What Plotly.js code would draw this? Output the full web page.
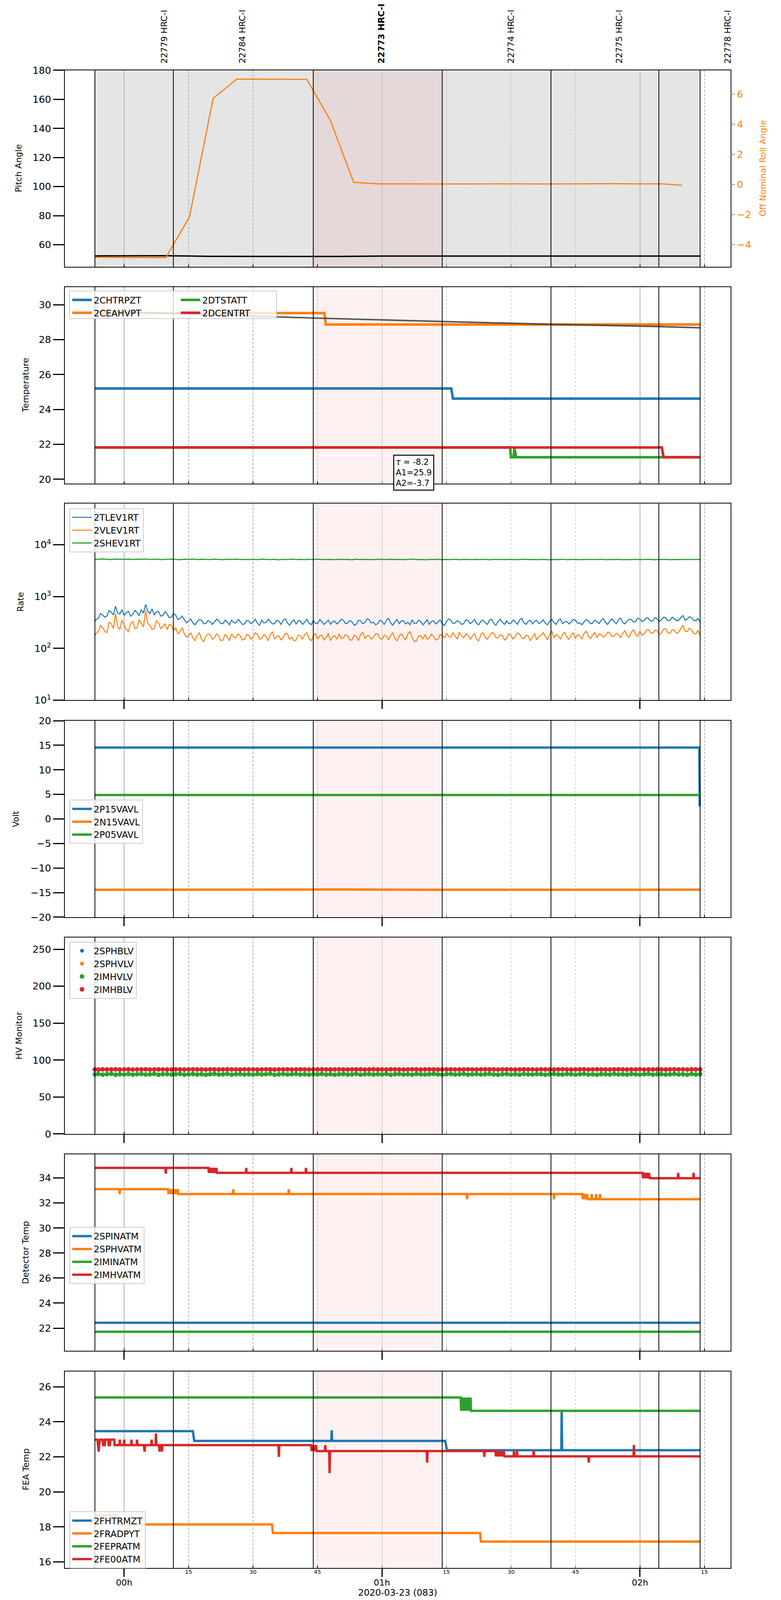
<!DOCTYPE html>
<html><head><meta charset="utf-8">
<script src="https://cdn.plot.ly/plotly-3.0.1.min.js"></script>
<style>body{margin:0;background:#fff;overflow:hidden}</style>
</head><body><div id="chart" style="width:2000px;height:4096px"></div>
<script>
// ---------------- DATA (times in minutes after 2020-03-23 00:00) ----------------
const obsBounds = [-6.8, 11.45, 44.0, 74.0, 99.3, 124.4, 134.0];
const highlight = [44.0, 74.0];
const obsLabels = ['22779 HRC-I','22784 HRC-I','22773 HRC-I','22774 HRC-I','22775 HRC-I','22778 HRC-I'];
const obsLabelT = [9.3, 27.5, 59.8, 90.0, 115.2, 140.4];
const obsBold = [false,false,true,false,false,false];

const hourTicks = [0, 60, 120];
const hourText = ['00h','01h','02h'];
const quarterT = [15,30,45,75,90,105,135];
const quarterText = ['15','30','45','15','30','45','15'];

// Panel 1
const pitchT = [-6.8,0,10,20,30,40,50,60,70,80,90,100,110,120,134];
const pitchV = [52.3,52.3,52.4,52.0,51.9,51.9,51.9,52.2,52.2,52.2,52.2,52.2,52.2,52.2,52.2];
const rollT = [-6.8,-1.3,4.2,9.7,15.2,20.7,26.2,31.7,37.2,42.5,47.9,53.4,59.2,64.7,70.2,75.7,81.2,86.7,92.2,97.7,103.2,108.7,114.2,119.7,125.2,129.8];
const rollV = [-4.83,-4.85,-4.86,-4.86,-2.15,5.72,7.0,7.0,6.99,6.98,4.3,0.14,0.04,0.03,0.03,0.03,0.04,0.04,0.04,0.03,0.04,0.05,0.05,0.04,0.04,-0.05];

// Panel 2
const chtrT = [-6.8,76.1,76.5,134]; const chtrV = [25.2,25.2,24.62,24.62];
const ceahT = [-6.8,46.6,46.9,134]; const ceahV = [29.52,29.52,28.87,28.87];
const dtstT = [-6.8,89.8,90.0,90.6,90.8,91.2,134]; const dtstV = [21.82,21.82,21.26,21.26,21.8,21.26,21.26];
const dcenT = [-6.8,125.1,125.5,134]; const dcenV = [21.82,21.82,21.26,21.26];
const fitT = [-6.8,11.5,44.0,74.0,99.2,124.3,134.0];
const fitV = [29.64,29.5,29.24,29.04,28.88,28.75,28.68];
const fitText = '<i>τ</i> = -8.2<br>A1=25.9<br>A2=-3.7';

// Panel 3 (rates) — half-minute sampling for the two noisy rates
const rateHT = [-6.8,-6.5,-6,-5.5,-5,-4.5,-4,-3.5,-3,-2.5,-2,-1.5,-1,-0.5,
0,0.5,1,1.5,2,2.5,3,3.5,4,4.5,5,5.5,6,6.5,7,7.5,8,8.5,9,9.5,
10,10.5,11,11.5,12,12.5,13,13.5,14,14.5,15,15.5,16,16.5,17,17.5,18,18.5,19,19.5,
20,20.5,21,21.5,22,22.5,23,23.5,24,24.5,25,25.5,26,26.5,27,27.5,28,28.5,29,29.5,
30,30.5,31,31.5,32,32.5,33,33.5,34,34.5,35,35.5,36,36.5,37,37.5,38,38.5,39,39.5,
40,40.5,41,41.5,42,42.5,43,43.5,44,44.5,45,45.5,46,46.5,47,47.5,48,48.5,49,49.5,
50,50.5,51,51.5,52,52.5,53,53.5,54,54.5,55,55.5,56,56.5,57,57.5,58,58.5,59,59.5,
60,60.5,61,61.5,62,62.5,63,63.5,64,64.5,65,65.5,66,66.5,67,67.5,68,68.5,69,69.5,
70,70.5,71,71.5,72,72.5,73,73.5,74,74.5,75,75.5,76,76.5,77,77.5,78,78.5,79,79.5,
80,80.5,81,81.5,82,82.5,83,83.5,84,84.5,85,85.5,86,86.5,87,87.5,88,88.5,89,89.5,
90,90.5,91,91.5,92,92.5,93,93.5,94,94.5,95,95.5,96,96.5,97,97.5,98,98.5,99,99.5,
100,100.5,101,101.5,102,102.5,103,103.5,104,104.5,105,105.5,106,106.5,107,107.5,108,108.5,109,109.5,
110,110.5,111,111.5,112,112.5,113,113.5,114,114.5,115,115.5,116,116.5,117,117.5,118,118.5,119,119.5,
120,120.5,121,121.5,122,122.5,123,123.5,124,124.5,125,125.5,126,126.5,127,127.5,128,128.5,129,129.5,
130,130.5,131,131.5,132,132.5,133,133.5,134];
const tlevV = [330,360,380,470,440,400,420,540,500,440,650,480,460,560,
430,490,520,420,450,540,490,430,560,480,710,520,470,580,440,500,520,420,430,510,
460,390,400,470,440,360,380,420,360,310,340,370,310,285,330,360,350,300,300,345,
330,290,320,365,345,300,300,350,325,285,350,315,310,360,330,290,295,345,340,300,
320,365,305,280,350,310,315,365,330,295,300,350,335,290,350,370,310,280,325,355,
295,340,340,290,320,365,310,285,345,305,300,360,330,290,315,350,290,330,335,295,
320,365,350,300,305,345,325,280,290,350,340,300,315,370,360,310,320,285,300,350,
330,290,345,380,310,280,325,360,300,340,340,295,320,285,355,305,305,350,330,285,
315,360,290,330,340,295,320,355,300,275,335,370,350,300,310,340,325,290,300,355,
345,300,320,360,305,285,335,350,315,290,350,365,300,280,330,365,320,290,340,300,
305,355,325,290,355,380,310,290,330,350,295,335,345,300,320,355,305,285,335,360,
315,290,345,370,300,325,330,295,320,360,350,305,310,285,325,360,340,300,305,350,
330,300,350,375,315,290,340,370,325,300,355,385,320,295,340,365,360,320,330,385,
365,330,345,390,380,335,340,395,370,330,355,400,390,340,350,400,375,340,345,395,
430,350,365,410,390,345,340,380,320];
const vlevV = [175,195,210,280,250,215,200,320,300,240,470,260,230,350,
280,230,210,300,330,240,250,360,300,260,530,300,280,230,240,340,310,240,260,300,
230,290,280,220,250,190,210,250,190,165,175,200,160,140,180,200,150,135,170,190,
185,150,160,190,175,140,145,185,170,140,190,165,160,190,175,145,150,185,180,150,
165,200,190,150,155,185,170,140,185,210,150,170,175,145,160,195,190,150,165,140,
145,180,175,150,185,200,155,140,170,195,150,175,180,145,165,195,140,170,175,150,
190,155,160,185,175,145,145,180,170,140,185,205,155,175,175,150,165,190,190,155,
150,180,170,145,180,200,155,140,175,190,165,145,190,210,160,135,140,175,175,150,
185,150,160,190,170,145,150,185,180,160,195,170,165,200,175,150,205,175,160,190,
180,150,170,195,150,140,185,200,165,150,175,200,195,160,160,185,175,145,155,190,
180,150,170,200,190,160,155,180,175,140,165,195,145,170,180,200,170,145,190,215,
160,185,175,150,185,205,165,150,180,200,155,185,175,150,195,215,170,155,180,205,
160,190,185,165,175,205,200,170,170,195,185,160,195,220,175,165,205,230,185,170,
215,180,190,225,230,200,195,225,220,185,200,235,240,200,195,230,225,195,205,240,
280,215,210,245,230,195,190,225,175];
// one-minute sampling (2SHEV1RT and HV monitors)
const rateT = [-6.8,-6,-5,-4,-3,-2,-1,
0,1,2,3,4,5,6,7,8,9,10,11,12,13,14,15,16,17,18,19,20,21,22,23,24,25,26,27,28,29,
30,31,32,33,34,35,36,37,38,39,40,41,42,43,44,45,46,47,48,49,50,51,52,53,54,55,56,57,58,59,
60,61,62,63,64,65,66,67,68,69,70,71,72,73,74,75,76,77,78,79,80,81,82,83,84,85,86,87,88,89,
90,91,92,93,94,95,96,97,98,99,100,101,102,103,104,105,106,107,108,109,110,111,112,113,114,115,116,117,118,119,
120,121,122,123,124,125,126,127,128,129,130,131,132,133,134];
const shevV = [5200,5280,5310,5250,5190,5300,5260,
5230,5290,5180,5270,5240,5310,5200,5260,5230,5180,
5250,5300,5210,5160,5270,5220,5290,5190,5240,5200,
5170,5260,5220,5150,5250,5200,5280,5180,5230,5190,
5240,5160,5270,5210,5180,5250,5140,5230,5200,5260,
5180,5220,5150,5240,5190,5270,5170,5210,5230,5160,
5250,5190,5220,5140,5260,5180,5230,5200,5150,5240,
5210,5170,5250,5190,5230,5160,5220,5260,5180,5200,
5140,5230,5190,5250,5170,5210,5180,5240,5150,5220,
5200,5160,5230,5180,5250,5140,5210,5190,5230,5170,
5220,5150,5200,5240,5180,5210,5160,5230,5190,5140,
5210,5180,5240,5160,5200,5230,5150,5190,5220,5170,
5200,5240,5160,5210,5180,5230,5150,5200,5190,5220,
5170,5210,5240,5160,5200,5180,5230,5150,5210,5190,
5220,5170,5200,5230,5180];

// Panel 4 (volts)
const p15T = [-6.8,133.8,133.9]; const p15V = [14.54,14.54,2.55];
const n15T = [-6.8,10,30,50,70,90,110,134]; const n15V = [-14.42,-14.38,-14.4,-14.36,-14.42,-14.4,-14.38,-14.4];
const p05T = [-6.8,134]; const p05V = [4.87,4.87];

// Panel 5 (HV monitor) - sampled on rateT
const sphbV = [null]; const sphvV = [null];
const imhvV = [80.6,81.2,80.3,80.9,81.4,80.2,80.8,
80.5,81.1,80.3,80.9,81.3,80.4,80.7,81.2,80.2,80.8,
81.0,80.4,80.9,81.3,80.3,80.7,81.1,80.5,80.9,80.2,
80.8,81.2,80.4,80.7,81.3,80.3,80.9,81.0,80.5,80.8,
80.3,81.1,80.6,80.9,81.4,80.2,80.7,81.1,80.5,80.9,
81.2,80.4,80.8,80.3,81.0,80.6,81.3,80.4,80.8,80.2,
80.9,81.1,80.5,80.7,81.2,80.3,80.8,81.0,80.4,80.9,
80.6,81.3,80.2,80.8,81.1,80.5,80.9,80.3,81.2,80.7,
80.4,80.9,81.3,80.6,80.2,80.8,81.1,80.5,80.9,81.2,
80.3,80.7,81.0,80.4,80.9,81.3,80.6,80.2,80.8,81.1,
80.5,80.9,80.3,81.2,80.7,80.4,81.0,80.8,80.2,80.9,
81.3,80.6,80.4,81.1,80.8,80.3,80.9,81.2,80.5,80.7,
80.2,81.0,80.8,80.4,81.3,80.6,80.9,80.3,81.1,80.7,
80.5,80.9,81.2,80.3,80.8,81.0,80.4,80.7,81.3,80.6,
80.9,80.2,81.1,80.5,80.8];
const imhbV = [87.3,87.2,87.4,87.3,87.3,87.4,87.2,
87.3,87.4,87.2,87.3,87.3,87.4,87.2,87.3,87.4,87.3,
87.2,87.3,87.4,87.3,87.2,87.3,87.4,87.3,87.3,87.2,
87.4,87.3,87.2,87.3,87.4,87.3,87.3,87.2,87.4,87.3,
87.3,87.2,87.3,87.4,87.3,87.2,87.3,87.3,87.4,87.2,
87.3,87.4,87.3,87.2,87.3,87.3,87.4,87.3,87.2,87.3,
87.4,87.3,87.2,87.3,87.3,87.4,87.2,87.3,87.4,87.3,
87.3,87.2,87.4,87.3,87.3,87.2,87.3,87.4,87.3,87.2,
87.3,87.4,87.3,87.2,87.3,87.3,87.4,87.2,87.3,87.3,
87.4,87.3,87.2,87.3,87.4,87.3,87.3,87.2,87.3,87.4,
87.3,87.2,87.3,87.4,87.3,87.3,87.2,87.4,87.3,87.3,
87.2,87.3,87.4,87.3,87.2,87.3,87.3,87.4,87.2,87.3,
87.4,87.3,87.3,87.2,87.3,87.4,87.3,87.2,87.3,87.3,
87.4,87.2,87.3,87.3,87.4,87.3,87.2,87.3,87.4,87.3,
87.3,87.2,87.4,87.3,87.3];

// Panel 6 (detector temps)
const spinaT = [-6.8,134]; const spinaV = [22.43,22.43];
const iminaT = [-6.8,134]; const iminaV = [21.71,21.71];
const sphvaT = [-6.8,-1.15,-1.05,-0.95,10.2,10.3,10.5,10.7,10.9,11.1,11.3,11.5,11.7,11.9,12.1,12.3,12.5,12.6,25.3,25.4,25.5,38.2,38.3,38.4,79.7,79.8,79.9,99.9,100.0,100.1,106.6,106.7,106.9,107.1,107.3,107.5,107.7,107.9,108.7,108.8,108.9,109.7,109.8,109.9,110.6,110.7,110.8,134];
const sphvaV = [33.11,33.11,32.72,33.11,33.11,32.72,33.11,32.72,33.11,32.72,33.11,32.72,33.11,32.72,33.11,32.72,33.11,32.72,32.72,33.11,32.72,32.72,33.11,32.72,32.72,32.30,32.72,32.72,32.30,32.72,32.72,32.30,32.72,32.30,32.72,32.30,32.72,32.30,32.30,32.72,32.30,32.30,32.72,32.30,32.30,32.72,32.30,32.30];
const imhvaT = [-6.8,9.6,9.7,9.8,19.6,19.7,19.9,20.1,20.3,20.5,20.7,20.9,21.1,21.3,21.5,21.6,28.3,28.4,28.5,38.8,38.9,39.0,42.2,42.3,42.4,120.6,120.7,120.9,121.1,121.3,121.5,121.7,121.9,122.1,122.3,128.8,128.9,129.0,132.4,132.5,132.6,134];
const imhvaV = [34.81,34.81,34.35,34.81,34.81,34.41,34.81,34.41,34.81,34.41,34.81,34.41,34.81,34.41,34.81,34.41,34.41,34.81,34.41,34.41,34.81,34.41,34.41,34.81,34.41,34.41,33.98,34.41,33.98,34.41,33.98,34.41,33.98,34.41,33.98,33.98,34.41,33.98,33.98,34.41,33.98,33.98];

// Panel 7 (FEA temps)
const fhtrT = [-6.8,16.0,16.3,48.2,48.3,48.4,74.7,75.1,101.7,101.8,101.9,134];
const fhtrV = [23.47,23.47,22.91,22.91,23.52,22.91,22.91,22.38,22.38,24.63,22.38,22.38];
const fradT = [-6.8,-1.6,-1.4,34.4,34.6,82.8,83.0,134];
const fradV = [18.66,18.66,18.14,18.14,17.65,17.65,17.16,17.16];
const feprT = [-6.8,78.3,78.4,78.6,78.8,79.0,79.2,79.4,79.6,79.8,80.0,80.2,80.4,80.6,80.7,134];
const feprV = [25.39,25.39,24.63,25.39,24.63,25.39,24.63,25.39,24.63,25.39,24.63,25.39,24.63,25.39,24.63,24.63];
const fe00T = [-6.8,-6.2,-6.1,-5.9,-5.8,-5.6,-5.0,-4.9,-4.5,-4.4,-3.7,-3.6,-3.3,-3.2,-2.3,-2.2,-1.1,-1.0,-0.9,-0.1,0.0,0.1,1.6,1.7,1.8,2.9,3.0,3.1,4.6,4.75,4.9,6.3,6.4,6.5,7.3,7.4,7.5,8.1,8.2,8.3,8.7,8.8,8.9,35.9,36.0,36.1,43.5,43.6,43.8,44.0,44.2,44.4,44.6,44.8,46.7,46.8,46.9,47.7,47.8,47.9,70.4,70.5,70.6,83.7,83.8,83.9,86.4,86.5,86.7,86.9,87.1,87.3,87.5,87.7,87.9,88.1,88.3,88.5,90.6,90.7,90.8,91.3,91.4,91.5,95.2,95.3,95.4,108.0,108.1,108.2,118.5,118.6,118.7,134];
const fe00V = [22.98,22.98,22.67,22.30,22.67,22.98,22.98,22.67,22.67,22.98,22.98,22.67,22.67,22.98,22.98,22.67,22.67,22.98,22.67,22.67,22.98,22.67,22.67,22.98,22.67,22.67,22.98,22.67,22.67,22.30,22.67,22.67,22.98,22.67,22.67,23.34,22.67,22.67,22.30,22.67,22.67,22.30,22.67,22.67,22.0,22.67,22.67,22.33,22.67,22.33,22.67,22.33,22.67,22.33,22.33,22.67,22.33,22.33,21.07,22.33,22.33,21.67,22.33,22.33,22.0,22.33,22.33,22.03,22.33,22.03,22.33,22.03,22.33,22.03,22.33,22.03,22.33,22.03,22.03,22.35,22.03,22.03,22.35,22.03,22.03,22.35,22.03,22.03,21.67,22.03,22.03,22.68,22.03,22.03];

// ---------------- LAYOUT / STYLE ----------------
// The browser viewport is 4096 px tall, so the 2000x5400 reference frame is laid out
// proportionally in a 2000x4096 page (positions below are given in reference pixels).
const W = 2000, REFH = 5400, H = 4096, S = H / REFH;
const F = 'DejaVu Sans';
const C = {blue:'#1f77b4', orange:'#ff7f0e', green:'#2ca02c', red:'#d62728'};
const panelTop = [237, 968.5, 1700, 2432.5, 3164, 3895.5, 4628.5];
const panelH = 663;
const xL = 166, xR = 1871;
const xRange = [-13.8, 141.1];
const py = p => 1 - p / REFH;
const px = p => p / W;
const FS = 25, FR = 22;   // horizontal / rotated font sizes

const layout = {
  width: W, height: H, margin: {l:0, r:0, t:0, b:0},
  paper_bgcolor: 'white', plot_bgcolor: 'white',
  font: {family: F, size: FS, color: 'black'},
  showlegend: true, shapes: [], annotations: []
};

const yCfg = [
  {range:[44.9,180.05], tickmode:'linear', tick0:60, dtick:20},
  {range:[19.76,31.02], tickmode:'linear', tick0:20, dtick:2},
  {type:'log', range:[1,4.793], tickmode:'array', tickvals:[10,100,1000,10000],
   ticktext:['10<sup>1</sup>','10<sup>2</sup>','10<sup>3</sup>','10<sup>4</sup>']},
  {range:[-20,20], tickmode:'linear', tick0:-20, dtick:5},
  {range:[0,266], tickmode:'linear', tick0:0, dtick:50},
  {range:[20.2,35.9], tickmode:'linear', tick0:22, dtick:2},
  {range:[15.66,26.88], tickmode:'linear', tick0:16, dtick:2}
];
const yTitles = ['Pitch Angle','Temperature','Rate','Volt','HV Monitor','Detector Temp','FEA Temp'];
const yTitleX = [47, 65, 53, 41, 48, 65, 66];

for (let i = 1; i <= 7; i++) {
  const top = panelTop[i-1], bot = top + panelH;
  const xk = i === 1 ? 'xaxis' : 'xaxis' + i;
  const yk = i === 1 ? 'yaxis' : 'yaxis' + i;
  const xid = i === 1 ? 'x' : 'x' + i;
  const yid = i === 1 ? 'y' : 'y' + i;
  layout[xk] = {
    domain:[px(xL), px(xR)], range:xRange, anchor:yid,
    showline:true, mirror:true, linecolor:'black', linewidth:2, zeroline:false,
    showgrid:true, gridcolor:'#b0b0b0', gridwidth:1.5,
    tickmode:'array', tickvals:hourTicks, ticktext:hourText,
    showticklabels:false, ticks: i >= 3 ? 'outside' : '',
    ticklen:Math.round(28*S), tickwidth:3, tickcolor:'black',
    minor:{tickmode:'linear', tick0:0, dtick:15, showgrid:true, gridcolor:'#b0b0b0',
           gridwidth:1.3, griddash:'6px,4px', ticks:'inside', ticklen:6, tickwidth:1.5, tickcolor:'black'}
  };
  layout[yk] = Object.assign({
    domain:[py(bot), py(top)], anchor:xid,
    showline:true, mirror:true, linecolor:'black', linewidth:2, zeroline:false, showgrid:false,
    ticks:'outside', ticklen:28, tickwidth:3, tickcolor:'black', tickfont:{size:FS}
  }, yCfg[i-1]);

  if (i === 1) {
    layout.shapes.push({type:'rect', xref:xid, yref:yid+' domain', x0:obsBounds[0], x1:obsBounds[obsBounds.length-1], y0:0, y1:1, fillcolor:'#e5e5e5', line:{width:0}, layer:'below'});
    layout.shapes.push({type:'rect', xref:xid, yref:yid+' domain', x0:highlight[0], x1:highlight[1], y0:0, y1:1, fillcolor:'#e4d8d8', line:{width:0}, layer:'below'});
  } else {
    layout.shapes.push({type:'rect', xref:xid, yref:yid+' domain', x0:highlight[0], x1:highlight[1], y0:0, y1:1, fillcolor:'#fdf1f1', line:{width:0}, layer:'below'});
  }
  obsBounds.forEach(b => layout.shapes.push({type:'line', xref:xid, yref:yid+' domain', x0:b, x1:b, y0:0, y1:1, line:{color:'black', width:2}, layer:'above'}));

  layout.annotations.push({text:yTitles[i-1], xref:'paper', yref:'paper', x:px(yTitleX[i-1]), y:py(top + panelH/2),
    xanchor:'center', yanchor:'middle', textangle:-90, showarrow:false, font:{size:FR}});
}

// roll overlay axis
layout.yaxis8 = {overlaying:'y', anchor:'x', side:'right', range:[-5.46,7.59], tickmode:'array',
  tickvals:[-4,-2,0,2,4,6], showgrid:false, zeroline:false, showline:false,
  ticks:'outside', ticklen:10, tickwidth:2, tickcolor:C.orange, tickfont:{size:FS, color:C.orange}};
layout.annotations.push({text:'Off Nominal Roll Angle', xref:'paper', yref:'paper', x:px(1953), y:py(panelTop[0]+panelH/2),
  xanchor:'center', yanchor:'middle', textangle:-90, showarrow:false, font:{size:FR, color:C.orange}});

// obsid labels
obsLabels.forEach((t, k) => layout.annotations.push({text: obsBold[k] ? '<b>'+t+'</b>' : t, xref:'x', yref:'paper',
  x:obsLabelT[k], y:py(217), xanchor:'center', yanchor:'bottom', textangle:-90, showarrow:false, font:{size:FR}}));

// fit annotation
layout.annotations.push({text:fitText, xref:'paper', yref:'paper', x:px(1007), y:py(1534), xanchor:'left', yanchor:'top',
  align:'left', showarrow:false, bgcolor:'white', bordercolor:'black', borderwidth:2.5, borderpad:4, font:{size:21}});

// bottom time labels (hours, quarter hours) & x title
hourTicks.forEach((h, k) => layout.annotations.push({text:hourText[k], xref:'x7', yref:'paper', x:h, y:py(5341),
  xanchor:'center', yanchor:'middle', showarrow:false, font:{size:22}}));
quarterT.forEach((q, k) => layout.annotations.push({text:quarterText[k], xref:'x7', yref:'paper', x:q, y:py(5305),
  xanchor:'center', yanchor:'middle', showarrow:false, font:{size:14}}));
layout.annotations.push({text:'2020-03-23 (083)', xref:'paper', yref:'paper', x:px(1018), y:py(5375),
  xanchor:'center', yanchor:'middle', showarrow:false, font:{size:23}});

// legends
const lg = (xp, yp, extra) => Object.assign({x:px(xp), y:py(yp), xanchor:'left', yanchor:'top', itemwidth:50,
  bgcolor:'rgba(255,255,255,0.8)', bordercolor:'#cccccc', borderwidth:2, font:{size:23, color:'black'}, tracegroupgap:0}, extra || {});
layout.legend = lg(180, 984, {bgcolor:'rgba(0,0,0,0)', borderwidth:0});
layout.legend2 = lg(458, 984, {bgcolor:'rgba(0,0,0,0)', borderwidth:0});
layout.legend3 = lg(178, 1715);
layout.legend4 = lg(178, 2699);
layout.legend5 = lg(178, 3178);
layout.legend6 = lg(178, 4141);
layout.legend7 = lg(178, 5101);
layout.shapes.push({type:'rect', xref:'paper', yref:'paper', x0:px(178), x1:px(708), y0:py(1075), y1:py(982),
  fillcolor:'rgba(255,255,255,0.8)', line:{color:'#cccccc', width:2}, layer:'above'});

// ---------------- TRACES ----------------
const L = (x, y, ax, name, color, width, legend) => ({
  type:'scatter', mode:'lines', x:x, y:y, xaxis:ax[0], yaxis:ax[1], name:name,
  line:{color:color, width:width}, legend:legend, showlegend: !!name});
const M = (x, y, ax, name, color, size, legend) => ({type:'scatter', mode:'markers', x:x, y:y, xaxis:ax[0], yaxis:ax[1],
  name:name, marker:{color:color, size:size, line:{width:0}}, legend:legend});

const data = [
  L(pitchT, pitchV, ['x','y'], '', 'black', 3.5, 'legend'),
  L(rollT, rollV, ['x','y8'], '', C.orange, 3, 'legend'),

  L(chtrT, chtrV, ['x2','y2'], '2CHTRPZT', C.blue, 6.5, 'legend'),
  L(dtstT, dtstV, ['x2','y2'], '2DTSTATT', C.green, 6.5, 'legend2'),
  L(ceahT, ceahV, ['x2','y2'], '2CEAHVPT', C.orange, 6.5, 'legend'),
  L(dcenT, dcenV, ['x2','y2'], '2DCENTRT', C.red, 6.5, 'legend2'),
  L(fitT, fitV, ['x2','y2'], '', 'rgba(60,60,60,0.85)', 4, 'legend'),

  L(rateHT, tlevV, ['x3','y3'], '2TLEV1RT', C.blue, 2.5, 'legend3'),
  L(rateHT, vlevV, ['x3','y3'], '2VLEV1RT', C.orange, 2.5, 'legend3'),
  L(rateT, shevV, ['x3','y3'], '2SHEV1RT', C.green, 3, 'legend3'),

  L(p15T, p15V, ['x4','y4'], '2P15VAVL', C.blue, 6, 'legend4'),
  L(n15T, n15V, ['x4','y4'], '2N15VAVL', C.orange, 6, 'legend4'),
  L(p05T, p05V, ['x4','y4'], '2P05VAVL', C.green, 6, 'legend4'),

  M([null], sphbV, ['x5','y5'], '2SPHBLV', C.blue, 10, 'legend5'),
  M([null], sphvV, ['x5','y5'], '2SPHVLV', C.orange, 10, 'legend5'),
  M(rateT, imhvV, ['x5','y5'], '2IMHVLV', C.green, 12, 'legend5'),
  M(rateT, imhbV, ['x5','y5'], '2IMHBLV', C.red, 12, 'legend5'),

  L(spinaT, spinaV, ['x6','y6'], '2SPINATM', C.blue, 6, 'legend6'),
  L(sphvaT, sphvaV, ['x6','y6'], '2SPHVATM', C.orange, 6, 'legend6'),
  L(iminaT, iminaV, ['x6','y6'], '2IMINATM', C.green, 6, 'legend6'),
  L(imhvaT, imhvaV, ['x6','y6'], '2IMHVATM', C.red, 6, 'legend6'),

  L(fhtrT, fhtrV, ['x7','y7'], '2FHTRMZT', C.blue, 6, 'legend7'),
  L(fradT, fradV, ['x7','y7'], '2FRADPYT', C.orange, 6, 'legend7'),
  L(feprT, feprV, ['x7','y7'], '2FEPRATM', C.green, 6, 'legend7'),
  L(fe00T, fe00V, ['x7','y7'], '2FE00ATM', C.red, 6, 'legend7')
];

Plotly.newPlot('chart', data, layout, {displayModeBar:false, staticPlot:true});
</script></body></html>
